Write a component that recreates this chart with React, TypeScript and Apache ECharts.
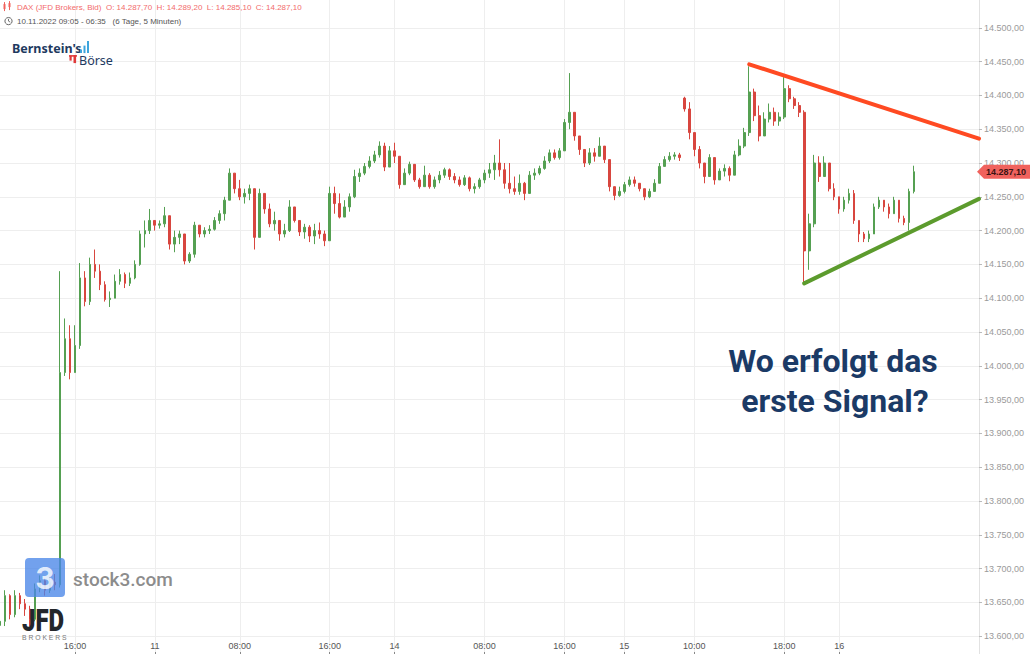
import React, { useEffect, useRef } from "react";
import * as echarts from "echarts";

// ---- data (5-px slots, one candle per slot) ----
const firstOpen = 13616;
const gapOpens: Record<number, number> = { 137: 14396 };

const closes = [
  13622, 13660, 13632, 13660, 13648, 13640, 13625, 13670, 13682, 13668,
  13680, 13676, 13990, 14040, 13990, 14030, 14130, 14095, 14150, 14140,
  14120, 14098, 14100, 14125, 14135, 14122, 14130, 14150, 14195, 14200,
  14215, 14208, 14210, 14222, 14180, 14190, 14195, 14155, 14165, 14208,
  14195, 14200, 14202, 14215, 14225, 14245, 14285, 14262, 14250, 14255,
  14262, 14190, 14255, 14232, 14210, 14215, 14195, 14200, 14235, 14215,
  14198, 14205, 14192, 14200, 14195, 14185, 14255, 14240, 14220, 14235,
  14250, 14280, 14285, 14295, 14303, 14312, 14325, 14294, 14318, 14310,
  14268, 14285, 14298, 14275, 14265, 14282, 14265, 14275, 14282, 14290,
  14280, 14275, 14268, 14278, 14262, 14265, 14275, 14285, 14290, 14300,
  14290, 14270, 14262, 14258, 14270, 14255, 14282, 14285, 14292, 14303,
  14315, 14308, 14318, 14360, 14375, 14340, 14320, 14300, 14315, 14310,
  14325, 14305, 14265, 14252, 14258, 14268, 14275, 14270, 14262, 14250,
  14258, 14270, 14295, 14305, 14310, 14312, 14308, 14380, 14345, 14320,
  14300, 14280, 14308, 14275, 14288, 14292, 14282, 14312, 14325, 14345,
  14405, 14370, 14340, 14365, 14375, 14362, 14368, 14410, 14395, 14385,
  14375, 14170, 14210, 14300, 14280, 14300, 14262, 14250, 14232, 14245,
  14255, 14215, 14195, 14188, 14195, 14235, 14245, 14235, 14225, 14245,
  14218, 14212, 14258, 14287.1,
];

const highs = [
  13632, 13668, 13662, 13668, 13664, 13655, 13645, 13678, 13690, 13686,
  13688, 13692, 14140, 14070, 14060, 14060, 14152, 14140, 14160, 14172,
  14150, 14125, 14110, 14135, 14143, 14138, 14138, 14156, 14200, 14215,
  14232, 14214, 14215, 14235, 14205, 14200, 14200, 14190, 14168, 14213,
  14208, 14205, 14208, 14220, 14230, 14250, 14292, 14285, 14275, 14262,
  14268, 14262, 14262, 14250, 14240, 14228, 14215, 14210, 14245, 14235,
  14215, 14210, 14208, 14210, 14212, 14200, 14265, 14265, 14255, 14245,
  14255, 14290, 14292, 14300, 14310, 14318, 14332, 14330, 14325, 14330,
  14300, 14292, 14302, 14298, 14278, 14296, 14285, 14280, 14288, 14293,
  14292, 14285, 14280, 14282, 14280, 14270, 14278, 14290, 14300, 14312,
  14335, 14300, 14300, 14280, 14283, 14272, 14288, 14292, 14296, 14310,
  14320, 14320, 14322, 14365, 14433, 14360, 14340, 14320, 14322, 14322,
  14338, 14320, 14305, 14262, 14265, 14272, 14280, 14280, 14270, 14262,
  14262, 14276, 14300, 14310, 14316, 14316, 14315, 14398, 14390, 14340,
  14325, 14300, 14313, 14305, 14292, 14298, 14295, 14318, 14335, 14352,
  14443, 14410, 14385, 14375, 14388, 14382, 14375, 14427, 14415, 14398,
  14390, 14378, 14225, 14312, 14310, 14310, 14295, 14270, 14250, 14250,
  14262, 14260, 14215, 14198, 14200, 14240, 14250, 14245, 14240, 14250,
  14245, 14222, 14262, 14296,
];

const lows = [
  13608, 13615, 13625, 13628, 13640, 13630, 13615, 13622, 13665, 13660,
  13664, 13668, 13672, 13985, 13980, 13990, 14025, 14088, 14090, 14130,
  14112, 14095, 14087, 14100, 14120, 14115, 14118, 14128, 14148, 14175,
  14195, 14200, 14203, 14205, 14172, 14168, 14180, 14150, 14152, 14160,
  14190, 14190, 14195, 14200, 14210, 14215, 14245, 14255, 14245, 14240,
  14245, 14172, 14190, 14225, 14205, 14200, 14185, 14190, 14198, 14212,
  14192, 14188, 14183, 14180, 14188, 14177, 14185, 14225, 14218, 14222,
  14228, 14248, 14272, 14282, 14292, 14300, 14308, 14288, 14295, 14300,
  14262, 14268, 14282, 14272, 14262, 14265, 14262, 14262, 14270, 14278,
  14275, 14270, 14265, 14266, 14258, 14255, 14262, 14270, 14278, 14275,
  14280, 14262, 14255, 14253, 14253, 14245, 14255, 14275, 14282, 14290,
  14300, 14305, 14305, 14320, 14350, 14333, 14312, 14294, 14297, 14302,
  14315, 14300, 14258, 14245, 14250, 14255, 14265, 14265, 14258, 14245,
  14248, 14258, 14278, 14295, 14302, 14305, 14303, 14376, 14335, 14310,
  14292, 14270, 14280, 14268, 14275, 14280, 14273, 14285, 14310, 14322,
  14340, 14362, 14332, 14342, 14360, 14355, 14355, 14365, 14390, 14380,
  14368, 14123, 14142, 14205, 14272, 14285, 14258, 14245, 14225, 14228,
  14240, 14210, 14183, 14183, 14183, 14200, 14232, 14228, 14218, 14228,
  14212, 14208, 14200, 14255,
];

const slotCount = 197;
const tickIndex = [15, 31, 48, 66, 79, 97, 113, 125, 139, 157, 168];
const tickLabels = ["16:00", "11", "08:00", "16:00", "14", "08:00", "16:00", "15", "10:00", "18:00", "16"];

const resistanceLine = [
  [150, 14446],
  [196, 14336],
];
const supportLine = [
  [161, 14122],
  [196, 14247],
];

const lastPrice = 14287.1;
const yMin = 13550;
const yMax = 14550;
const yStep = 50;

const headerText = "DAX (JFD Brokers, Bid)  O: 14.287,70  H: 14.289,20  L: 14.285,10  C: 14.287,10";
const rangeText = "10.11.2022 09:05 - 06:35   (6 Tage, 5 Minuten)";
const questionLines = ["Wo erfolgt das", "erste Signal?"];

// chart box is taller than the window so that 14.550 / 13.550 fall just outside it
const BOX_TOP = -6.1;
const BOX_H = 675.9;

// ---- helpers ----
function de(v: number): string {
  const [i, d] = v.toFixed(2).split(".");
  return i.replace(/\B(?=(\d{3})+(?!\d))/g, ".") + "," + d;
}

const slots = Array.from({ length: slotCount }, (_, i) => String(i));

const candleData = closes.map((c, i) => {
  const o = gapOpens[i] ?? (i === 0 ? firstOpen : closes[i - 1]);
  const h = Math.max(highs[i], o, c);
  const l = Math.min(lows[i], o, c);
  return [o, c, l, h];
});

const FONT = '"Liberation Sans", Arial, sans-serif';
const UP = "#55a052";
const DOWN = "#d8463f";

function txt(x: number, y: number, text: string, font: string, fill: string, align = "left", extra: any = {}) {
  return {
    type: "text",
    x,
    y,
    z: 100,
    ...extra,
    style: {
      text,
      font,
      fill,
      align,
      textAlign: align,
      verticalAlign: "middle",
      textVerticalAlign: "middle",
    },
  };
}

function buildGraphic(py: number, ax: number) {
  const red = "#f0625d";
  const navy = "#1e3a5f";
  const fixed = [
    // header candle icon
    { type: "line", z: 100, shape: { x1: 4.5, y1: 2, x2: 4.5, y2: 11 }, style: { stroke: red, lineWidth: 1 } },
    { type: "rect", z: 100, shape: { x: 3.5, y: 4, width: 2, height: 5 }, style: { fill: red } },
    { type: "line", z: 100, shape: { x1: 9.5, y1: 1, x2: 9.5, y2: 10 }, style: { stroke: red, lineWidth: 1 } },
    { type: "rect", z: 100, shape: { x: 8.5, y: 3, width: 2, height: 4 }, style: { fill: red } },
    txt(17, 7, headerText, `8px ${FONT}`, "#f26b6b"),
    // clock icon
    { type: "circle", z: 100, shape: { cx: 8.5, cy: 21, r: 3.6 }, style: { fill: "none", stroke: "#666", lineWidth: 1 } },
    { type: "polyline", z: 100, shape: { points: [[8.5, 18.8], [8.5, 21], [10.2, 22]] }, style: { fill: "none", stroke: "#666", lineWidth: 0.9 } },
    txt(17, 21, rangeText, `8px ${FONT}`, "#555"),
    // Bernstein's Börse logo
    txt(12, 48.5, "Bernstein's", `bold 12.5px "Noto Sans", sans-serif`, navy),
    { type: "rect", z: 100, shape: { x: 80, y: 49.5, width: 2, height: 3.5 }, style: { fill: "#3da5dd" } },
    { type: "rect", z: 100, shape: { x: 83.5, y: 45.5, width: 2, height: 7.5 }, style: { fill: "#3da5dd" } },
    { type: "rect", z: 100, shape: { x: 87, y: 41, width: 2, height: 12 }, style: { fill: "#3da5dd" } },
    { type: "rect", z: 100, shape: { x: 69.5, y: 55.5, width: 2.2, height: 5 }, style: { fill: "#e03a3a" } },
    { type: "rect", z: 100, shape: { x: 73.5, y: 55, width: 2.6, height: 8 }, style: { fill: "#e03a3a" } },
    { type: "rect", z: 100, shape: { x: 69, y: 55, width: 8, height: 1.6 }, style: { fill: "#e03a3a" } },
    txt(79, 60, "Börse", `12.5px "Noto Sans", sans-serif`, navy),
    // stock3 watermark
    { type: "rect", z: 100, shape: { x: 25, y: 558, width: 40, height: 39, r: 4 }, style: { fill: "rgba(74,134,232,0.78)" } },
    txt(45, 578, "3", `bold 30px Inter, Roboto, sans-serif`, "rgba(255,255,255,0.8)", "center"),
    txt(73, 579, "stock3.com", `500 19px Roboto, sans-serif`, "#8c8c8c"),
    // JFD Brokers
    txt(22, 620, "JFD", `900 30px Roboto, sans-serif`, "#23262b", "left", { scaleX: 0.8, scaleY: 1.05 }),
    txt(22, 637, "B R O K E R S", `6.8px ${FONT}`, "#7a7a7a"),
    // question text
    txt(833, 361, questionLines[0], `bold 32px Roboto, sans-serif`, "#1b3a66", "center"),
    txt(835, 401, questionLines[1], `bold 32px Roboto, sans-serif`, "#1b3a66", "center"),
  ];
  return [
    { type: "group", x: 0, y: -BOX_TOP, z: 100, children: fixed },
    {
      type: "polygon",
      z: 110,
      shape: { points: [[ax - 2, py], [ax + 5, py - 7], [1032, py - 7], [1032, py + 7], [ax + 5, py + 7]] },
      style: { fill: red },
    },
    txt(ax + 7, py + 0.5, de(lastPrice), `bold 9px ${FONT}`, "#3b1414", "left", { z: 111 }),
  ];
}

const option: any = {
  animation: false,
  backgroundColor: "#ffffff",
  textStyle: { fontFamily: FONT },
  grid: { left: 0, right: 51, top: 0, bottom: 0, containLabel: false, outerBoundsMode: "none" },
  xAxis: {
    type: "category",
    data: slots,
    boundaryGap: false,
    offset: -15,
    axisLine: { show: false },
    axisTick: {
      show: true,
      inside: true,
      length: 3,
      interval: (i: number) => tickIndex.includes(i),
      lineStyle: { color: "#888" },
    },
    axisLabel: {
      inside: true,
      margin: 5,
      interval: (i: number) => tickIndex.includes(i),
      formatter: (_v: string, i: number) => {
        const k = tickIndex.indexOf(i);
        return k >= 0 ? tickLabels[k] : "";
      },
      color: "#555",
      fontSize: 9,
      fontFamily: FONT,
    },
    splitLine: {
      show: true,
      interval: (i: number) => tickIndex.includes(i),
      lineStyle: { color: "#eeeeee", width: 1 },
    },
  },
  yAxis: {
    type: "value",
    position: "right",
    min: yMin,
    max: yMax,
    interval: yStep,
    axisLine: { show: true, lineStyle: { color: "#e2e2e2" } },
    axisTick: { show: true, length: 3, lineStyle: { color: "#bbbbbb" } },
    axisLabel: {
      margin: 5,
      color: "#9a9a9a",
      fontSize: 9,
      fontFamily: FONT,
      showMinLabel: false,
      showMaxLabel: false,
      formatter: (v: number) => de(v),
    },
    splitLine: { show: true, lineStyle: { color: "#eeeeee", width: 1 } },
  },
  series: [
    {
      type: "candlestick",
      data: candleData,
      barWidth: 2.2,
      itemStyle: { color: UP, color0: DOWN, borderColor: UP, borderColor0: DOWN, borderWidth: 1 },
      z: 3,
    },
    {
      type: "line",
      data: resistanceLine,
      symbol: "none",
      lineStyle: { color: "#ff4a22", width: 4, cap: "round" },
      z: 5,
      silent: true,
    },
    {
      type: "line",
      data: supportLine,
      symbol: "none",
      lineStyle: { color: "#5c9b2d", width: 4, cap: "round" },
      z: 5,
      silent: true,
    },
  ],
};

export default function App() {
  const ref = useRef<HTMLDivElement>(null);
  useEffect(() => {
    const el = ref.current;
    if (!el) return;
    const chart = echarts.init(el, null, { renderer: "svg" });
    chart.setOption(option);
    let py = chart.convertToPixel({ yAxisIndex: 0 }, lastPrice) as any as number;
    let ax = chart.convertToPixel({ xAxisIndex: 0 }, slotCount - 1) as any as number;
    if (typeof py !== "number" || isNaN(py)) py = 178;
    if (typeof ax !== "number" || isNaN(ax)) ax = 979;
    chart.setOption({ graphic: buildGraphic(py, ax) });
    return () => chart.dispose();
  }, []);
  return (
    <div style={{ position: "fixed", left: 0, top: 0, width: 1030, height: 654, overflow: "hidden", background: "#fff" }}>
      <div
        ref={ref}
        style={{ position: "absolute", left: 0, top: BOX_TOP, width: 1030, height: BOX_H }}
      />
    </div>
  );
}
